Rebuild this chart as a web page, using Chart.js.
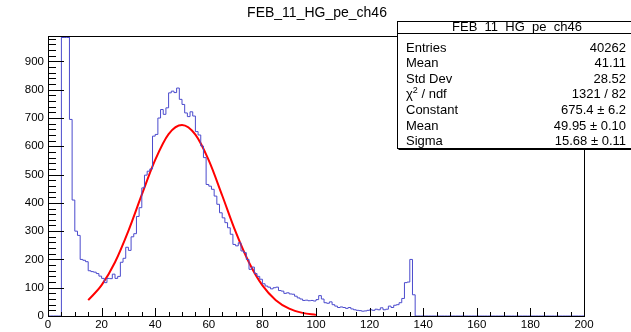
<!DOCTYPE html>
<html>
<head>
<meta charset="utf-8">
<script src="https://cdn.jsdelivr.net/npm/chart.js@4"></script>
<style>
  html, body { margin: 0; padding: 0; background: #fff; }
  #wrap { width: 631px; height: 332px; }
</style>
</head>
<body>
<div id="wrap"><canvas id="c" width="631" height="332"></canvas></div>
<script>
// histogram FEB_11_HG_pe_ch46, 200 bins of width 1 on [0, 200]
const histTitle = "FEB_11_HG_pe_ch46";
const xMin = 0, xMax = 200, nBins = 200;
const yMax = 990;
const firstBin = 5; // bins before this one are empty
// bin contents from bin 5 to bin 136 (everything after is empty)
const binCounts = [
  2900, 3600, 2900, 695, 410, 300,
  285, 200, 197, 192, 160, 157, 155, 150, 141, 133,
  118, 133, 132, 148, 133, 140, 190, 204, 243, 232,
  280, 291, 352, 383, 453, 498, 512, 520, 636, 642,
  700, 730, 713, 736, 789, 795, 790, 806, 766, 748,
  718, 705, 722, 707, 652, 640, 601, 560, 465, 459,
  448, 424, 395, 365, 347, 330, 312, 289, 253, 248,
  259, 230, 224, 200, 165, 173, 150, 140, 130, 114,
  106, 102, 96, 100, 102, 90, 88, 80, 82, 78,
  77, 70, 64, 60, 55, 56, 54, 55, 53, 58,
  72, 60, 47, 45, 50, 40, 35, 30, 32, 30,
  27, 30, 25, 22, 20, 19, 17, 18, 20, 22,
  20, 24, 22, 29, 22, 24, 35, 30, 38, 40,
  47, 62, 118, 120, 200, 75
];
// gaus fit drawn over [15, 100]
const fitX = [15, 20, 25, 30, 35, 40, 45, 50, 55, 60, 65, 70, 75, 80, 85, 90, 95, 100];
const fitY = [56, 109, 190, 301, 429, 552, 643, 675, 641, 550, 426, 298, 189, 108, 56, 26, 11, 4];
// stats box
const statLabels = ["Entries", "Mean", "Std Dev", "chi2", "Constant", "Mean", "Sigma"];
const statValues = ["40262", "41.11", "28.52", "1321 / 82", "675.4 \u00b1 6.2", "49.95 \u00b1 0.10", "15.68 \u00b1 0.11"];
// axis divisions
const xMajor = 20, xMinor = 5;
const yMajor = 100, yMinor = 20;

const FONT = '"Liberation Sans", Arial, sans-serif';

// histogram outline: one point at each lower edge, then the last upper edge
const histPoints = [];
for (let i = 0; i < nBins; i++) {
  const k = i - firstBin;
  const v = (k >= 0 && k < binCounts.length) ? binCounts[k] : 0;
  histPoints.push({ x: xMin + i, y: v });
}
histPoints.push({ x: xMax, y: histPoints[nBins - 1].y });

const fitPoints = fitX.map((x, i) => ({ x, y: fitY[i] }));

function majorTicks(lo, hi, step) {
  const t = [];
  for (let v = lo; v <= hi; v += step) t.push({ value: v });
  return t;
}

const rootFrame = {
  id: "rootFrame",
  afterDatasetsDraw(chart) {
    const { ctx, chartArea: a, scales } = chart;
    ctx.save();
    // bins above the frame are drawn along its top edge, like ROOT does
    ctx.strokeStyle = "rgb(75, 75, 205)";
    ctx.beginPath();
    for (let i = 0; i < binCounts.length; i++) {
      if (binCounts[i] > yMax) {
        const x0 = scales.x.getPixelForValue(firstBin + i);
        const x1 = scales.x.getPixelForValue(firstBin + i + 1);
        ctx.moveTo(x0, a.top + 1.5);
        ctx.lineTo(x1, a.top + 1.5);
      }
    }
    ctx.stroke();

    ctx.strokeStyle = "#000";
    ctx.lineWidth = 1;
    // ticks inside the frame, like ROOT
    ctx.beginPath();
    for (let v = xMin; v <= xMax; v += xMinor) {
      const px = Math.round(scales.x.getPixelForValue(v)) + 0.5;
      const len = v % xMajor === 0 ? 8 : 4;
      ctx.moveTo(px, a.bottom);
      ctx.lineTo(px, a.bottom - len);
    }
    for (let v = 0; v <= yMax; v += yMinor) {
      const py = Math.round(scales.y.getPixelForValue(v)) + 0.5;
      const len = v % yMajor === 0 ? 16 : 8;
      ctx.moveTo(a.left, py);
      ctx.lineTo(a.left + len, py);
    }
    ctx.stroke();
    ctx.strokeRect(Math.round(a.left) + 0.5, Math.round(a.top) + 0.5,
      Math.round(a.right - a.left), Math.round(a.bottom - a.top));
    ctx.restore();
  },
  afterDraw(chart) {
    const ctx = chart.ctx;
    ctx.save();
    // title
    ctx.fillStyle = "#000";
    ctx.font = "14px " + FONT;
    ctx.textAlign = "center";
    ctx.textBaseline = "middle";
    ctx.fillText(histTitle, 317, 13);

    // stats box
    const bx = 397.5, by = 21.5, bw = 240, bh = 127;
    ctx.fillStyle = "#fff";
    ctx.fillRect(bx, by, bw, bh);
    ctx.strokeStyle = "#000";
    ctx.lineWidth = 1;
    ctx.strokeRect(bx, by, bw, bh);
    ctx.beginPath();
    ctx.moveTo(bx + 1, by + bh + 1);
    ctx.lineTo(bx + bw, by + bh + 1);
    ctx.moveTo(bx, 33.5);
    ctx.lineTo(bx + bw, 33.5);
    ctx.stroke();

    ctx.fillStyle = "#000";
    ctx.font = "13px " + FONT;
    ctx.textAlign = "center";
    ctx.fillText(histTitle, 517, 27.5);

    for (let i = 0; i < statLabels.length; i++) {
      const y = 48 + i * 15.6;
      ctx.textAlign = "left";
      if (statLabels[i] === "chi2") {
        ctx.font = "13px " + FONT;
        ctx.fillText("\u03c7", 406, y);
        const w = ctx.measureText("\u03c7").width;
        ctx.font = "9px " + FONT;
        ctx.fillText("2", 406 + w, y - 4);
        const w2 = ctx.measureText("2").width;
        ctx.font = "13px " + FONT;
        ctx.fillText(" / ndf", 406 + w + w2, y);
      } else {
        ctx.font = "13px " + FONT;
        ctx.fillText(statLabels[i], 406, y);
      }
      ctx.textAlign = "right";
      ctx.fillText(statValues[i], 626, y);
    }
    ctx.restore();
  }
};

new Chart(document.getElementById("c"), {
  type: "line",
  data: {
    datasets: [
      {
        data: histPoints,
        stepped: true,
        borderColor: "rgb(75, 75, 205)",
        borderWidth: 1,
        pointRadius: 0,
        fill: false,
        tension: 0
      },
      {
        data: fitPoints,
        borderColor: "#ff0000",
        borderWidth: 2,
        pointRadius: 0,
        fill: false,
        cubicInterpolationMode: "monotone"
      }
    ]
  },
  options: {
    responsive: false,
    devicePixelRatio: 1,
    animation: false,
    parsing: false,
    layout: { padding: { top: 36, right: 47, left: 0, bottom: 0 } },
    plugins: {
      legend: { display: false },
      tooltip: { enabled: false },
      title: { display: false }
    },
    scales: {
      x: {
        type: "linear",
        min: xMin,
        max: xMax,
        grid: { display: false, drawTicks: false },
        border: { display: false },
        ticks: {
          padding: 2,
          maxRotation: 0,
          color: "#000",
          font: { family: FONT, size: 11.5 }
        },
        afterBuildTicks: (s) => { s.ticks = majorTicks(xMin, xMax, xMajor); },
        afterFit: (s) => { s.height = 16; }
      },
      y: {
        type: "linear",
        min: 0,
        max: yMax,
        grid: { display: false, drawTicks: false },
        border: { display: false },
        ticks: {
          padding: 4,
          color: "#000",
          font: { family: FONT, size: 11.5 }
        },
        afterBuildTicks: (s) => { s.ticks = majorTicks(0, 900, yMajor); },
        afterFit: (s) => { s.width = 48; }
      }
    }
  },
  plugins: [rootFrame]
});
</script>
</body>
</html>
